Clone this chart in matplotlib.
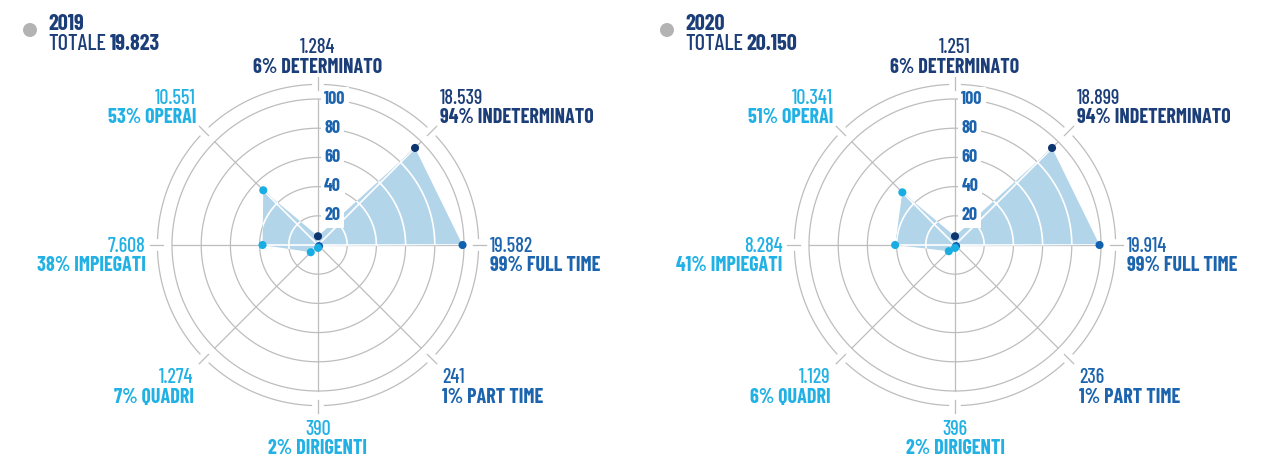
import numpy as np
import matplotlib.pyplot as plt
from matplotlib import font_manager
from matplotlib.patches import Circle

# carattere condensato, con ripiego se non disponibile
pesi = {}
for f in font_manager.fontManager.ttflist:
    if f.style == 'normal':
        pesi.setdefault(f.name, set()).add(f.weight)
FONT = 'DejaVu Sans'
for nome in ['Barlow Condensed', 'Barlow Semi Condensed', 'Roboto Condensed',
             'Saira SemiCondensed', 'Liberation Sans Narrow']:
    if nome in pesi and 700 in pesi[nome] and 400 in pesi[nome]:
        FONT = nome
        break
REG = 500 if 500 in pesi.get(FONT, ()) else 400
plt.rcParams['font.family'] = [FONT, 'DejaVu Sans']

# categorie sugli 8 assi (gradi, 0 = destra, senso antiorario)
categorie = ['DETERMINATO', 'INDETERMINATO', 'FULL TIME', 'PART TIME',
             'DIRIGENTI', 'QUADRI', 'IMPIEGATI', 'OPERAI']
angoli = [90, 45, 0, -45, -90, -135, 180, 135]

anni = ['2019', '2020']
totali = [19823, 20150]
valori_2019 = [1284, 18539, 19582, 241, 390, 1274, 7608, 10551]
perc_2019 = [6, 94, 99, 1, 2, 7, 38, 53]
valori_2020 = [1251, 18899, 19914, 236, 396, 1129, 8284, 10341]
perc_2020 = [6, 94, 99, 1, 2, 6, 41, 51]

anelli = [20, 40, 60, 80, 100]

NAVY = '#1b3d78'
MID = '#1c64ae'
CYAN = '#22b1e4'
FILL = '#b3d5ea'
GRID = '#bdbdbd'
colori = [NAVY, NAVY, MID, MID, CYAN, CYAN, CYAN, CYAN]
colori_punti = ['#0d3570', '#0d3570', '#1261ae', '#1261ae',
                '#19aee3', '#19aee3', '#19aee3', '#19aee3']

# posizione delle etichette attorno al grafico
allineamento = ['center', 'left', 'left', 'left', 'center', 'right', 'right', 'right']
modo = ['sopra', 'sopra', 'centro', 'sotto', 'sotto', 'sotto', 'centro', 'sopra']


def fmt(n):
    return f'{n:,}'.replace(',', '.')


W, H = 1262, 459
fig = plt.figure(figsize=(W / 100, H / 100), dpi=100)

RMAX = 125
PX = 1.46  # pixel per unita' radiale
raggio_px = RMAX * PX


def pannello(cx, cy, anno, totale, valori, perc):
    ax = fig.add_axes([(cx - raggio_px) / W, (H - cy - raggio_px) / H,
                       2 * raggio_px / W, 2 * raggio_px / H], projection='polar')
    ax.set_ylim(0, RMAX)
    ax.axis('off')

    th = np.deg2rad(angoli)
    giro = np.linspace(0, 2 * np.pi, 721)

    # griglia grigia
    for r in anelli:
        ax.plot(giro, np.full_like(giro, r), color=GRID, lw=0.9, zorder=1)
    for a in th:
        ax.plot([a, a], [0, 100], color=GRID, lw=0.9, zorder=1)
        ax.plot([a, a], [106, 115], color=GRID, lw=0.9, zorder=1)
    gap = np.deg2rad(2.3)
    ordinati = np.sort(np.mod(th, 2 * np.pi))
    for i in range(len(ordinati)):
        a0 = ordinati[i] + gap
        a1 = ordinati[(i + 1) % len(ordinati)] - gap
        if a1 < a0:
            a1 += 2 * np.pi
        seg = np.linspace(a0, a1, 80)
        ax.plot(seg, np.full_like(seg, 110), color=GRID, lw=0.9, zorder=1)

    # area
    th_c = np.append(th, th[0])
    p_c = np.append(perc, perc[0])
    poly = ax.fill(th_c, p_c, color=FILL, lw=0, zorder=2)[0]

    # griglia bianca dentro l'area
    for r in anelli:
        ln, = ax.plot(giro, np.full_like(giro, r), color='white', lw=1.2, zorder=3)
        ln.set_clip_path(poly)
    for a in th:
        ln, = ax.plot([a, a], [0, 100], color='white', lw=1.2, zorder=3)
        ln.set_clip_path(poly)

    # scala sull'asse verticale
    for r in anelli:
        ax.annotate(str(r), xy=(np.pi / 2, r), xytext=(4.5, 0), textcoords='offset points',
                    ha='left', va='center', fontsize=13, fontweight='bold', color=MID,
                    bbox=dict(boxstyle='square,pad=0.2', fc='white', ec='none'), zorder=4)

    ax.scatter(th, perc, s=34, c=colori_punti, zorder=5, clip_on=False, linewidths=0)

    # etichette
    for a, cat, v, p, col, ha, m in zip(th, categorie, valori, perc, colori, allineamento, modo):
        if m == 'sopra':
            r, dy1, dy2 = 118, 14, 0
        elif m == 'centro':
            r, dy1, dy2 = 118, -5, -19
        else:
            r, dy1, dy2 = 120.5, -10, -24
        ax.annotate(fmt(v), xy=(a, r), xytext=(0, dy1), textcoords='offset points',
                    ha=ha, va='baseline', fontsize=14.5, fontweight=REG, color=col,
                    annotation_clip=False)
        ax.annotate(f'{p}% {cat}', xy=(a, r), xytext=(0, dy2), textcoords='offset points',
                    ha=ha, va='baseline', fontsize=14.5, fontweight='bold', color=col,
                    annotation_clip=False)

    # titolo
    tx = cx - 270
    fig.add_artist(Circle(((tx - 18) / 100, (H - 30) / 100), 0.07,
                          transform=fig.dpi_scale_trans, color='#b3b3b3', lw=0))
    fig.text(tx / W, 1 - 30 / H, anno, ha='left', va='baseline', fontsize=16,
             fontweight='bold', color=NAVY)
    t = fig.text(tx / W, 1 - 50 / H, 'TOTALE', ha='left', va='baseline', fontsize=16,
                 fontweight=REG, color=NAVY)
    ax.annotate(fmt(totale), xy=(1, 0), xycoords=t, xytext=(2.5, 0),
                textcoords='offset points', ha='left', va='bottom', fontsize=16,
                fontweight='bold', color=NAVY, annotation_clip=False)


pannello(318, 245, anni[0], totali[0], valori_2019, perc_2019)
pannello(955, 245, anni[1], totali[1], valori_2020, perc_2020)

fig.savefig('out.png', dpi=100)
